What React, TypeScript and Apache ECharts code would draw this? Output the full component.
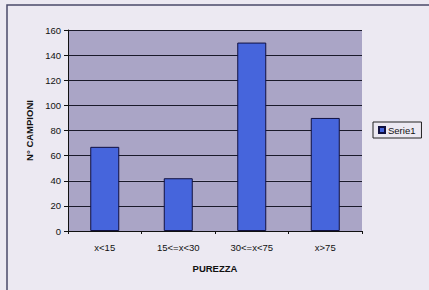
import React, { useEffect, useRef } from "react";
import * as echarts from "echarts";

const categories = ["x<15", "15<=x<30", "30<=x<75", "x>75"];
const serie1 = [67, 42, 150, 90];
const yTicks = { min: 0, max: 160, interval: 20 };

export default function App() {
  const ref = useRef<HTMLDivElement>(null);
  useEffect(() => {
    const chart = echarts.init(ref.current!, undefined, { renderer: "svg" });
    chart.setOption({
      animation: false,
      backgroundColor: "#ece9f2",
      textStyle: { fontFamily: "Liberation Sans, Arial, sans-serif" },
      graphic: [
        {
          type: "rect",
          shape: { x: 7, y: 5, width: 440, height: 320 },
          style: { fill: "none", stroke: "#4a4a6a", lineWidth: 1.5 },
          silent: true,
        },
      ],
      grid: { left: 68, top: 30, width: 294, height: 201 },
      legend: {
        data: ["Serie1"],
        left: 373,
        top: 122,
        orient: "vertical",
        icon: "rect",
        itemWidth: 6,
        itemHeight: 6,
        itemGap: 4,
        padding: [3, 6, 3, 5],
        borderColor: "#222",
        borderWidth: 1,
        textStyle: { fontSize: 9.5, color: "#111", padding: [0, 0, 0, -2] },
      },
      xAxis: {
        type: "category",
        data: categories,
        name: "PUREZZA",
        nameLocation: "middle",
        nameGap: 32,
        nameTextStyle: { fontSize: 9.5, fontWeight: "bold", color: "#111" },
        axisLine: { lineStyle: { color: "#111", width: 1 } },
        axisTick: { show: true, length: 3, lineStyle: { color: "#111" } },
        axisLabel: { fontSize: 9.5, color: "#111", margin: 11 },
      },
      yAxis: {
        type: "value",
        min: yTicks.min,
        max: yTicks.max,
        interval: yTicks.interval,
        name: "N° CAMPIONI",
        nameLocation: "middle",
        nameGap: 34,
        nameTextStyle: { fontSize: 9.5, fontWeight: "bold", color: "#111" },
        axisLine: { show: true, lineStyle: { color: "#111", width: 1 } },
        axisTick: { show: true, length: 4, lineStyle: { color: "#111" } },
        axisLabel: { fontSize: 9.5, color: "#111", margin: 7 },
        splitLine: { lineStyle: { color: "#1a1a2a", width: 1 } },
        splitArea: { show: true, areaStyle: { color: ["#aaa5c6", "#aaa5c6"] } },
      },
      series: [
        {
          name: "Serie1",
          type: "bar",
          data: serie1,
          barWidth: 29,
          itemStyle: { color: "#4665dc", borderColor: "#101040", borderWidth: 1 },
        },
      ],
    });
    return () => chart.dispose();
  }, []);
  return (
    <div
      ref={ref}
      style={{ position: "fixed", left: 0, top: 0, width: 429, height: 290 }}
    />
  );
}
